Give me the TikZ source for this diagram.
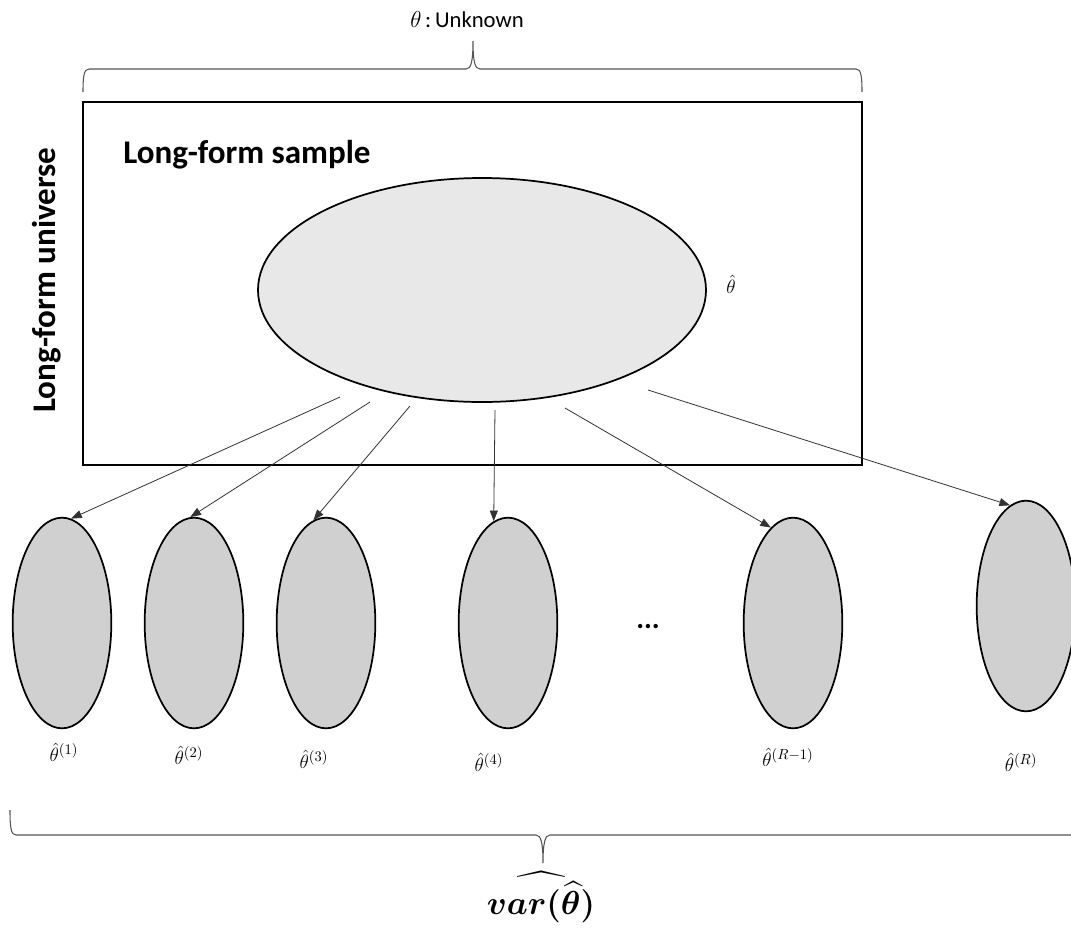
\documentclass[tikz,border=0pt]{standalone}
\usepackage{fontspec}
\usepackage{amsmath,bm}
\newfontfamily\carlito{Carlito}
\usetikzlibrary{arrows.meta,shapes.geometric,calc}
\definecolor{bigfill}{HTML}{E8E8E8}
\definecolor{smallfill}{HTML}{D0D0D0}
\definecolor{bracegray}{HTML}{555555}
\definecolor{arrowgray}{HTML}{333333}

\begin{document}
\begin{tikzpicture}[x=0.75pt,y=-0.75pt,
  frame/.style={draw, line width=1.4pt, minimum width=584pt, minimum height=272pt, inner sep=0pt},
  bigsample/.style={ellipse, draw, line width=1.3pt, fill=bigfill, minimum width=336pt, minimum height=168pt, inner sep=0pt},
  subsample/.style={ellipse, draw, line width=1.3pt, fill=smallfill, minimum width=74pt, minimum height=158pt, inner sep=0pt},
  titletext/.style={font=\carlito\bfseries\fontsize{24.8}{30}\selectfont, inner sep=0pt},
  estlabel/.style={font=\fontsize{15.5}{18}\selectfont, inner sep=0pt},
  arr/.style={draw=arrowgray, line width=0.6pt, -{Triangle[length=8pt,width=6pt]}},
  bracepath/.style={draw=bracegray, line width=0.8pt},
]
\clip (0,0) rectangle (1071,929);

% universe frame and its titles
\node[frame] (univ) at (472.5,283.5) {};
\node[titletext, anchor=west] (sampletitle) at (123,155) {Long-form sample};
\node[titletext, rotate=90] (univtitle) at (47,280) {Long-form universe};

% brace over the universe with the unknown parameter
\coordinate (tbL) at (83,92);
\coordinate (tbR) at (862,92);
\coordinate (tbTip) at (473,41);
\draw[bracepath] (tbL) .. controls (83,76) and (84,69) .. (89,69) -- (466,69)
  .. controls (471,69) and (473,62) .. (tbTip)
  .. controls (473,62) and (475,69) .. (480,69) -- (856,69)
  .. controls (861,69) and (862,76) .. (tbR);
\node[inner sep=0pt] (unknown) at (467,20)
  {\fontsize{17}{20}\selectfont$\theta$\,{\carlito :\,Unknown}};

% long-form sample and its estimate
\node[bigsample] (big) at (482,290) {};
\node[estlabel] (bighat) at (731,284) {$\hat{\theta}$};

% replicate subsamples
\node[subsample] (s1) at (62,623) {};
\node[subsample] (s2) at (194,623) {};
\node[subsample] (s3) at (326,623) {};
\node[subsample] (s4) at (508,623) {};
\node[subsample] (s5) at (793,623) {};
\node[subsample] (s6) at (1026,606) {};

\node[estlabel] (l1) at (64,752) {$\hat{\theta}^{(1)}$};
\node[estlabel] (l2) at (189,755) {$\hat{\theta}^{(2)}$};
\node[estlabel] (l3) at (314,759) {$\hat{\theta}^{(3)}$};
\node[estlabel] (l4) at (489,762) {$\hat{\theta}^{(4)}$};
\node[estlabel] (l5) at (788,757) {$\hat{\theta}^{(R-1)}$};
\node[estlabel] (l6) at (1021,762) {$\hat{\theta}^{(R)}$};

\node[font=\carlito\bfseries\fontsize{22}{26}\selectfont, inner sep=0pt] (dots) at (648,627) {...};

% resampling arrows
\coordinate (a1) at ($(big.center)+(-142,107)$);
\coordinate (a2) at ($(big.center)+(-112,112)$);
\coordinate (a3) at ($(big.center)+(-72,116)$);
\coordinate (a4) at ($(big.center)+(13,120)$);
\coordinate (a5) at ($(big.center)+(83,118)$);
\coordinate (a6) at ($(big.center)+(166,100)$);
\draw[arr] (a1) -- (s1.85);
\draw[arr] (a2) -- (s2.92);
\draw[arr] (a3) -- (s3.97);
\draw[arr] (a4) -- (s4.98);
\draw[arr] (a5) -- (s5.103);
\draw[arr] (a6) -- (s6.99);

% brace under the replicates with the variance estimate
\coordinate (bbL) at (10,810);
\coordinate (bbR) at (1090,810);
\coordinate (bbTip) at (543,863);
\draw[bracepath] (bbL) .. controls (10,828) and (11,835) .. (16,835) -- (536,835)
  .. controls (541,835) and (543,843) .. (bbTip)
  .. controls (543,843) and (545,835) .. (550,835) -- (1084,835)
  .. controls (1089,835) and (1090,828) .. (bbR);
\node[inner sep=0pt, font=\fontsize{24}{28}\selectfont] (varhat) at (541,897)
  {$\bm{\widehat{var(\widehat{\theta})}}$};
\end{tikzpicture}
\end{document}
